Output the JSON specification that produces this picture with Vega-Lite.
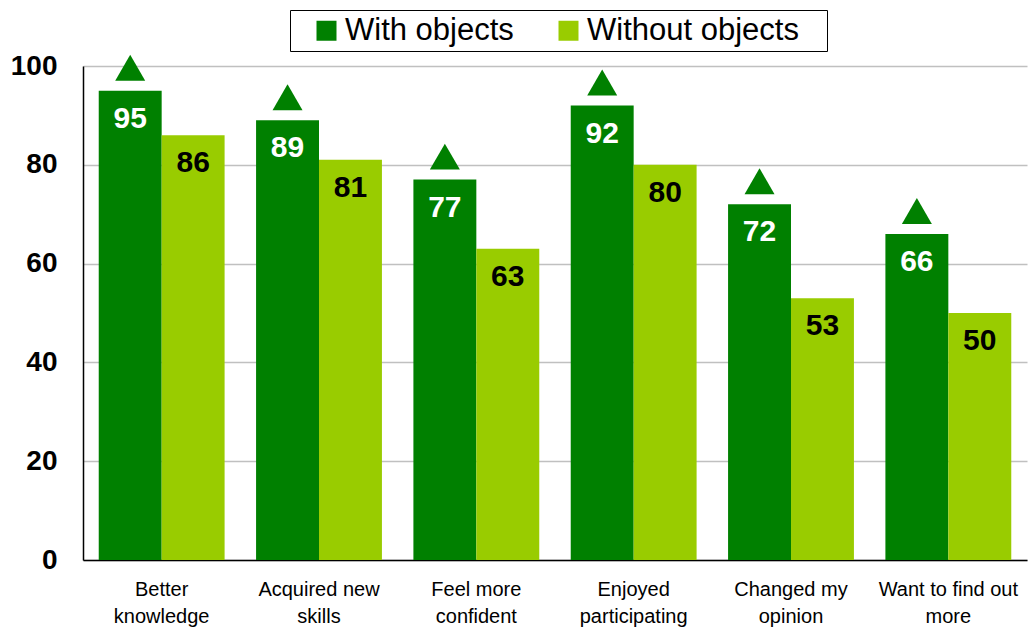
{
  "$schema": "https://vega.github.io/schema/vega-lite/v6.json",
  "autosize": "none",
  "width": 944,
  "height": 494,
  "padding": {"left": 83, "top": 66, "right": 1, "bottom": 70},
  "background": "white",
  "config": {
    "view": {"stroke": null},
    "font": "Liberation Sans",
    "axis": {"labelFont": "Liberation Sans", "labelColor": "#000000", "domainColor": "#000000", "domainWidth": 1.5, "ticks": false, "tickSize": 0}
  },
  "data": {
    "values": [
      {"category": "Better knowledge", "series": "With objects", "value": 95},
      {"category": "Better knowledge", "series": "Without objects", "value": 86},
      {"category": "Acquired new skills", "series": "With objects", "value": 89},
      {"category": "Acquired new skills", "series": "Without objects", "value": 81},
      {"category": "Feel more confident", "series": "With objects", "value": 77},
      {"category": "Feel more confident", "series": "Without objects", "value": 63},
      {"category": "Enjoyed participating", "series": "With objects", "value": 92},
      {"category": "Enjoyed participating", "series": "Without objects", "value": 80},
      {"category": "Changed my opinion", "series": "With objects", "value": 72},
      {"category": "Changed my opinion", "series": "Without objects", "value": 53},
      {"category": "Want to find out more", "series": "With objects", "value": 66},
      {"category": "Want to find out more", "series": "Without objects", "value": 50}
    ]
  },
  "encoding": {
    "x": {
      "field": "category",
      "type": "nominal",
      "sort": null,
      "scale": {"paddingInner": 0.2, "paddingOuter": 0.1},
      "axis": {
        "title": null,
        "labelAngle": 0,
        "labelFontSize": 20,
        "labelPadding": 19,
        "labelLineHeight": 27,
        "labelBaseline": "top",
        "grid": false,
        "labelExpr": "datum.label == 'Better knowledge' ? ['Better', 'knowledge'] : datum.label == 'Acquired new skills' ? ['Acquired new', 'skills'] : datum.label == 'Feel more confident' ? ['Feel more', 'confident'] : datum.label == 'Enjoyed participating' ? ['Enjoyed', 'participating'] : datum.label == 'Changed my opinion' ? ['Changed my', 'opinion'] : ['Want to find out', 'more']"
      }
    },
    "xOffset": {"field": "series", "type": "nominal", "sort": ["With objects", "Without objects"]},
    "y": {
      "field": "value",
      "type": "quantitative",
      "scale": {"domain": [0, 100], "nice": false},
      "axis": {
        "title": null,
        "values": [0, 20, 40, 60, 80, 100],
        "labelFontSize": 28,
        "labelFontWeight": "bold",
        "labelPadding": 26,
        "grid": true,
        "gridColor": "#C0C0C0",
        "gridWidth": 1.5
      }
    }
  },
  "layer": [
    {
      "mark": {"type": "bar"},
      "encoding": {
        "color": {
          "field": "series",
          "type": "nominal",
          "scale": {"domain": ["With objects", "Without objects"], "range": ["#008000", "#99CC00"]},
          "legend": {
            "title": null,
            "orient": "none",
            "legendX": 207,
            "legendY": -56,
            "direction": "horizontal",
            "symbolType": "square",
            "symbolSize": 400,
            "symbolStrokeWidth": 0,
            "symbolOffset": 16,
            "labelFont": "Liberation Sans",
            "labelFontSize": 31,
            "labelColor": "#000000",
            "labelOffset": 3,
            "labelLimit": 0,
            "columnPadding": 23,
            "padding": 5,
            "strokeColor": "#000000",
            "fillColor": "white",
            "labelExpr": "datum.label == 'Without objects' ? 'Without objects\u2800' : datum.label"
          }
        }
      }
    },
    {
      "mark": {"type": "text", "baseline": "middle", "dy": 28, "fontSize": 30, "fontWeight": "bold", "font": "Liberation Sans"},
      "encoding": {
        "text": {"field": "value", "type": "quantitative"},
        "color": {"condition": {"test": "datum.series == 'With objects'", "value": "#FFFFFF"}, "value": "#000000"}
      }
    },
    {
      "transform": [{"filter": "datum.series == 'With objects'"}],
      "mark": {"type": "point", "shape": "triangle-up", "filled": true, "opacity": 1, "size": 900, "yOffset": -23, "color": "#008000"},
      "encoding": {}
    }
  ]
}
